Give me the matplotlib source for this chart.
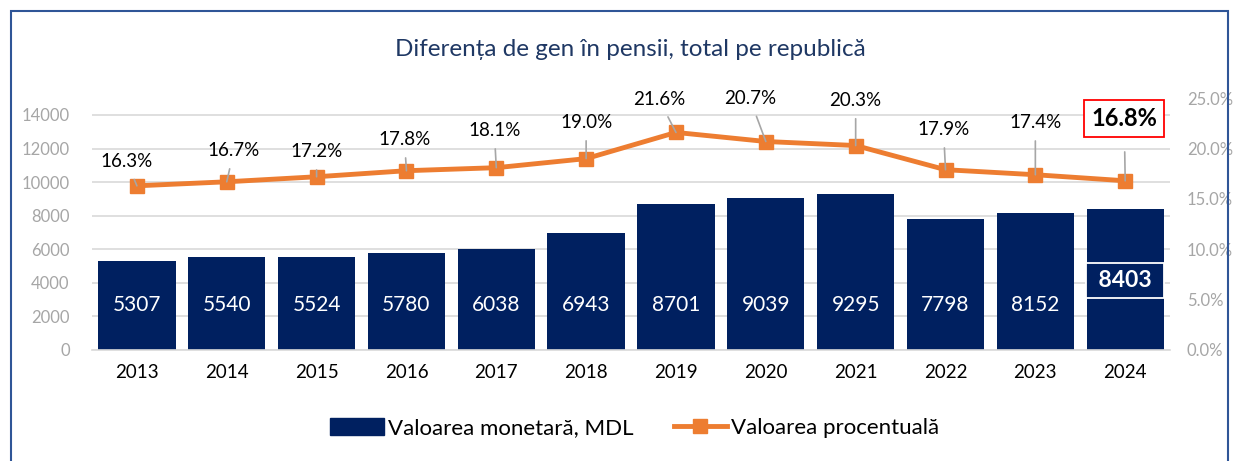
import numpy as np
import matplotlib.pyplot as plt
from matplotlib.patches import Rectangle
from matplotlib.lines import Line2D
from matplotlib.patches import Patch

plt.rcParams['font.family'] = ['Lato', 'DejaVu Sans']

# Data
years = ['2013', '2014', '2015', '2016', '2017', '2018', '2019', '2020', '2021', '2022', '2023', '2024']
money_gap = [5307, 5540, 5524, 5780, 6038, 6943, 8701, 9039, 9295, 7798, 8152, 8403]
pct_gap = [16.3, 16.7, 17.2, 17.8, 18.1, 19.0, 21.6, 20.7, 20.3, 17.9, 17.4, 16.8]

navy = '#002060'
orange = '#ED7D31'
grid_c = '#D9D9D9'
tick_c = '#A6A6A6'

# label offsets in pixels (dx, dy) from the line points
label_offsets = [(-10, 24), (7, 31), (0, 25), (-2, 31), (-2, 37), (0, 36),
                 (-17, 33), (-16, 43), (0, 45), (-2, 40), (0, 52), (-1, 62)]

fig = plt.figure(figsize=(12.33, 4.61), dpi=100)
ax = fig.add_axes([0.0746, 0.2408, 0.8744, 0.5462])
x = np.arange(len(years))

ax.bar(x, money_gap, 0.86, color=navy, zorder=2)
ax.set_xlim(-0.5, len(years) - 0.5)
ax.set_ylim(0, 15000)
ax.set_yticks(np.arange(0, 14001, 2000))
ax.yaxis.grid(True, color=grid_c, linewidth=1.2, zorder=0)
ax.set_axisbelow(True)
for s in ['top', 'right', 'left']:
    ax.spines[s].set_visible(False)
ax.spines['bottom'].set_color(grid_c)
ax.spines['bottom'].set_linewidth(1.2)
ax.tick_params(axis='y', colors=tick_c, labelsize=12, length=0, pad=16)
ax.tick_params(axis='x', colors='black', labelsize=13.5, length=0, pad=10)
ax.set_xticks(x)
ax.set_xticklabels(years)

# bar value labels
for i, v in enumerate(money_gap):
    if i == len(money_gap) - 1:
        ax.text(i, 4150, f' {v} ', ha='center', va='center', color='white', fontsize=16.5,
                fontweight='bold', zorder=4,
                bbox=dict(boxstyle='square,pad=0.3', facecolor=navy, edgecolor='white', linewidth=1.3))
    else:
        ax.text(i, 2680, str(v), ha='center', va='center', color='white', fontsize=15, zorder=4)

ax2 = ax.twinx()
ax2.set_ylim(0, 25)
ax2.set_yticks(np.arange(0, 25.1, 5))
ax2.set_yticklabels([f'{t:.1f}%' for t in np.arange(0, 25.1, 5)])
for s in ax2.spines.values():
    s.set_visible(False)
ax2.tick_params(axis='y', colors=tick_c, labelsize=12, length=0, pad=12)
ax2.plot(x, pct_gap, color=orange, linewidth=3.5, marker='s', markersize=10, zorder=3)

for i, (v, (dx, dy)) in enumerate(zip(pct_gap, label_offsets)):
    last = i == len(pct_gap) - 1
    ax2.annotate(f'{v:.1f}%', xy=(i, v), xytext=(dx, dy), textcoords='offset pixels',
                 ha='center', va='center', fontsize=17 if last else 13.5,
                 fontweight='bold' if last else 'normal', color='black',
                 arrowprops=dict(arrowstyle='-', color='#A6A6A6', linewidth=1.2,
                                 shrinkA=5 if not last else 10, shrinkB=0),
                 bbox=dict(boxstyle='square,pad=0.3', facecolor='white',
                           edgecolor='red', linewidth=1.3) if last else None)

fig.text(0.511, 0.893, 'Diferența de gen în pensii, total pe republică', ha='center', va='center',
         fontsize=17.5, color='#1F3864')

handles = [Patch(facecolor=navy, edgecolor=navy),
           Line2D([0], [0], color=orange, linewidth=3.5, marker='s', markersize=10)]
fig.legend(handles, ['Valoarea monetară, MDL', 'Valoarea procentuală'], loc='center',
           bbox_to_anchor=(0.515, 0.072), ncol=2, frameon=False, fontsize=16,
           handlelength=2.4, handleheight=0.8, handletextpad=0.2, columnspacing=1.8)

fig.patches.append(Rectangle((0.0089, -0.05), 0.987, 0.976 + 0.05, transform=fig.transFigure,
                             fill=False, edgecolor='#2F5597', linewidth=1.5))

fig.savefig('out.png', dpi=100)
